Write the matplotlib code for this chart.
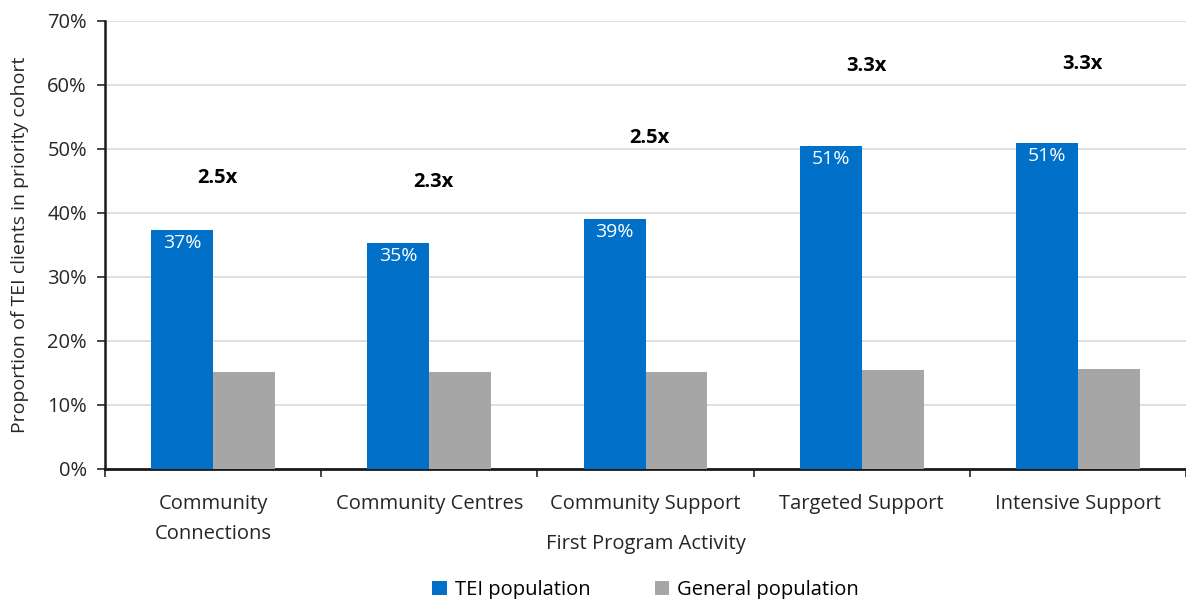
import numpy as np
import matplotlib.pyplot as plt

plt.rcParams['font.family'] = ['Open Sans', 'DejaVu Sans']

activities = ['Community\nConnections', 'Community Centres', 'Community Support',
              'Targeted Support', 'Intensive Support']
tei_pop = [37.3, 35.3, 39.1, 50.5, 50.9]
general_pop = [15.2, 15.1, 15.2, 15.5, 15.6]
tei_labels = ['37%', '35%', '39%', '51%', '51%']
ratio_labels = ['2.5x', '2.3x', '2.5x', '3.3x', '3.3x']
ratio_heights = [45.5, 44.8, 51.7, 63.0, 63.3]

fig = plt.figure(figsize=(11.86, 5.99), dpi=100)
ax = fig.add_axes([105 / 1186, 1 - 469 / 599, 1 - 105 / 1186, (469 - 21) / 599])

x = np.arange(len(activities))
w = 0.286
blue = '#0070C8'
grey = '#A6A6A6'
txt = '#262626'
fs = 14.5

b1 = ax.bar(x - w / 2, tei_pop, w, color=blue, label='TEI population', zorder=3)
b2 = ax.bar(x + w / 2, general_pop, w, color=grey, label='General population', zorder=3)

for rect, lab in zip(b1, tei_labels):
    ax.annotate(lab, (rect.get_x() + rect.get_width() / 2, rect.get_height()),
                xytext=(0, -3), textcoords='offset points', ha='center', va='top',
                color='white', fontsize=14, zorder=4)

for xi, lab, h in zip(x, ratio_labels, ratio_heights):
    ax.text(xi + 0.02, h, lab, ha='center', va='center', fontsize=14.5,
            fontweight='bold', color='black')

ax.set_xlim(-0.5, len(activities) - 0.5)
ax.set_ylim(0, 70)
ax.set_yticks(np.arange(0, 71, 10))
ax.set_yticklabels([f'{v}%' for v in range(0, 71, 10)], fontsize=fs, color=txt)
ax.yaxis.grid(True, color='#D9D9D9', linewidth=1.2, zorder=0)
ax.set_axisbelow(True)

ax.set_xticks(x)
ax.set_xticklabels(activities, fontsize=fs, color=txt, linespacing=1.65)
ax.set_xticks(np.arange(-0.5, len(activities)), minor=True)
ax.tick_params(axis='x', which='major', length=0, pad=18)
ax.tick_params(axis='x', which='minor', length=6, width=1.2, color=txt)
ax.tick_params(axis='y', length=6, width=1.2, color=txt, pad=7)

for s in ['top', 'right']:
    ax.spines[s].set_visible(False)
ax.spines['left'].set_linewidth(1.8)
ax.spines['bottom'].set_linewidth(2)
ax.spines['left'].set_color('#1a1a1a')
ax.spines['bottom'].set_color('#1a1a1a')

ax.set_xlabel('First Program Activity', fontsize=fs, color=txt)
ax.xaxis.set_label_coords(0.5, -0.145)
ax.set_ylabel('Proportion of TEI clients in priority cohort', fontsize=14,
              color=txt)
ax.yaxis.set_label_coords(-0.07, 0.5)

ax.legend(loc='center', bbox_to_anchor=(0.5, -0.27), ncol=2, frameon=False,
          fontsize=fs, handlelength=0.7, handleheight=0.7, columnspacing=3.2,
          handletextpad=0.4, borderpad=0)

plt.savefig('out.png', dpi=100)
